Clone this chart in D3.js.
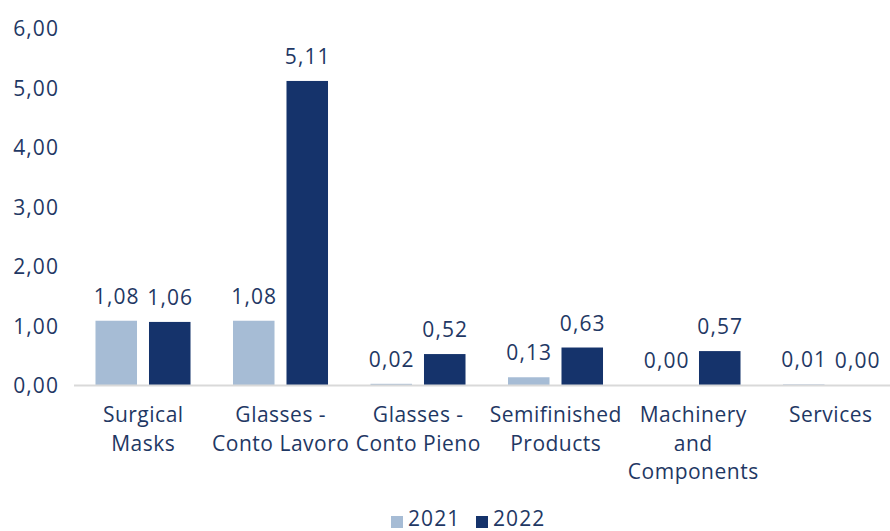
<!DOCTYPE html>
<html>
<head>
<meta charset="utf-8">
<script src="https://cdn.jsdelivr.net/npm/d3@7"></script>
<style>
  html, body { margin: 0; padding: 0; background: #fff; }
  svg text { font-family: "Open Sans", sans-serif; fill: #1f3864; letter-spacing: 1.1px; }
  svg text.cat { letter-spacing: 0.5px; }
</style>
</head>
<body>
<svg id="chart" width="890" height="531"></svg>
<script>
// Categories (each label wraps onto the lines given)
const categories = [
  ["Surgical", "Masks"],
  ["Glasses -", "Conto Lavoro"],
  ["Glasses -", "Conto Pieno"],
  ["Semifinished", "Products"],
  ["Machinery", "and", "Components"],
  ["Services"]
];
const seriesNames = ["2021", "2022"];
const values2021 = [1.08, 1.08, 0.02, 0.13, 0.00, 0.01];
const values2022 = [1.06, 5.11, 0.52, 0.63, 0.57, 0.00];
const yTicks = [0, 1, 2, 3, 4, 5, 6];
const colors = ["#a6bcd5", "#15336b"];

const W = 890, H = 531;
const svg = d3.select("#chart");
const fmt = v => d3.format(".2f")(v).replace(".", ",");

const x0 = d3.scaleBand()
  .domain(d3.range(categories.length))
  .range([74.25, 74.25 + 137.5 * categories.length])
  .paddingInner(0).paddingOuter(0);
const x1 = d3.scaleBand()
  .domain(seriesNames)
  .range([0, x0.bandwidth()])
  .paddingInner(0.224).paddingOuter(0.397);
const y = d3.scaleLinear().domain([0, 6]).range([385, 28]);

// Y axis labels (no axis line, no ticks)
const yAxis = d3.axisLeft(y).tickValues(yTicks).tickFormat(fmt).tickSize(0).tickPadding(0);
const gy = svg.append("g").attr("transform", "translate(59,0)").call(yAxis);
gy.select(".domain").remove();
gy.selectAll("text")
  .attr("font-family", null).attr("fill", null)
  .style("font-size", "21px").attr("dy", "0.36em");

// Bars
const rows = categories.map((c, i) => ({ i, vals: [values2021[i], values2022[i]] }));
const groups = svg.append("g").selectAll("g").data(rows).join("g")
  .attr("transform", d => `translate(${x0(d.i)},0)`);

groups.selectAll("rect")
  .data(d => d.vals.map((v, k) => ({ v, k })))
  .join("rect")
  .attr("x", d => x1(seriesNames[d.k]))
  .attr("width", x1.bandwidth())
  .attr("y", d => y(d.v))
  .attr("height", d => y(0) - y(d.v))
  .attr("fill", d => colors[d.k]);

groups.selectAll("text.val")
  .data(d => d.vals.map((v, k) => ({ v, k })))
  .join("text")
  .attr("class", "val")
  .attr("x", d => x1(seriesNames[d.k]) + x1.bandwidth() / 2 + 0.5)
  .attr("y", d => y(d.v) - 17)
  .attr("text-anchor", "middle")
  .style("font-size", "21px")
  .text(d => fmt(d.v));

// Category axis line
svg.append("line")
  .attr("x1", 74).attr("x2", W)
  .attr("y1", y(0) + 0.5).attr("y2", y(0) + 0.5)
  .attr("stroke", "#d9d9d9").attr("stroke-width", 2);

// Category labels, kept inside the right edge
const catG = svg.append("g").selectAll("text").data(categories).join("text")
  .attr("class", "cat")
  .attr("text-anchor", "middle")
  .style("font-size", "21px")
  .attr("x", (d, i) => x0(i) + x0.bandwidth() / 2 + 0.25)
  .attr("y", 422);
catG.selectAll("tspan").data(d => d).join("tspan")
  .attr("x", function () { return this.parentNode.getAttribute("x"); })
  .attr("dy", (d, j) => j === 0 ? 0 : 28.5)
  .text(d => d);
catG.each(function () {
  const b = this.getBBox();
  const over = b.x + b.width - (W - 5);
  if (over > 0) {
    const nx = +this.getAttribute("x") - over;
    d3.select(this).attr("x", nx).selectAll("tspan").attr("x", nx);
  }
});

// Legend
const legend = svg.append("g");
const legendItems = [{ name: seriesNames[0], x: 391 }, { name: seriesNames[1], x: 476 }];
legendItems.forEach((it, k) => {
  legend.append("rect").attr("x", it.x).attr("y", 516).attr("width", 12).attr("height", 12)
    .attr("fill", colors[k]);
  legend.append("text").attr("x", it.x + 17).attr("y", 526).style("font-size", "21px").text(it.name);
});
</script>
</body>
</html>
